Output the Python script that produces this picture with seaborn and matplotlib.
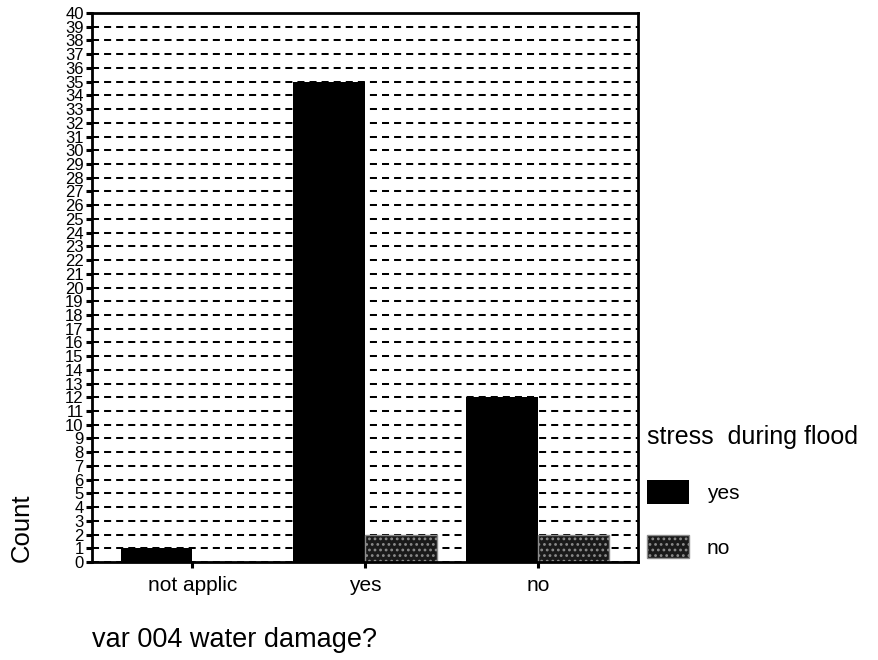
import matplotlib
matplotlib.use('Agg')
import matplotlib.pyplot as plt
import matplotlib.patches as mpatches
import seaborn as sns
import pandas as pd

# counts
damage_levels = ['not applic', 'yes', 'no']
stress_levels = ['yes', 'no']
count_stress_yes = [1, 35, 12]
count_stress_no = [0, 2, 2]

df = pd.DataFrame({
    'damage': damage_levels * 2,
    'stress': ['yes'] * len(damage_levels) + ['no'] * len(damage_levels),
    'count': count_stress_yes + count_stress_no,
})

sns.set_style('white')
plt.rcParams['font.family'] = ['Liberation Sans', 'DejaVu Sans']
plt.rcParams['text.color'] = 'black'
plt.rcParams['axes.labelcolor'] = 'black'
plt.rcParams['hatch.linewidth'] = 1.2

HATCH_FACE = '#1a1a1a'
HATCH_EDGE = '#8c8c8c'

fig = plt.figure(figsize=(8.79, 6.6), dpi=100)
ax = fig.add_axes([92 / 879, 1 - 562 / 660, 546 / 879, 549 / 660])

sns.barplot(data=df, x='damage', y='count', hue='stress',
            order=damage_levels, hue_order=stress_levels,
            palette=['black', 'black'], saturation=1, width=0.83,
            errorbar=None, legend=False, ax=ax)

for bar in ax.containers[0]:
    bar.set_facecolor('black')
    bar.set_edgecolor('black')
    bar.set_linewidth(0)
for bar in ax.containers[1]:
    bar.set_facecolor(HATCH_FACE)
    bar.set_edgecolor(HATCH_EDGE)
    bar.set_hatch('...')
    bar.set_linewidth(1)

ax.set_xlim(-0.58, 2.58)
ax.set_ylim(0, 40)
ax.set_yticks(range(0, 41))
ax.set_yticklabels([str(v) for v in range(0, 41)])

ax.set_axisbelow(True)
ax.yaxis.grid(True, color='black', linewidth=1.45, linestyle=(0, (3.5, 2.5)))
ax.xaxis.grid(False)

for side in ['left', 'bottom', 'top', 'right']:
    ax.spines[side].set_visible(True)
    ax.spines[side].set_color('black')
    ax.spines[side].set_linewidth(2.0)

ax.tick_params(axis='y', length=4, width=2.2, direction='out', pad=2,
               labelsize=12, colors='black', left=True)
ax.tick_params(axis='x', length=4, width=2.2, direction='out', pad=6,
               labelsize=15, colors='black', bottom=True)

ax.set_xlabel('var 004 water damage?', fontsize=19.5, ha='left')
ax.xaxis.set_label_coords(0.0, (562 - 653) / 549)
ax.xaxis.label.set_va('bottom')
ax.set_ylabel('Count', fontsize=18.5, ha='left')
ax.yaxis.set_label_coords((10 - 92) / 546, 0.0)
ax.yaxis.label.set_va('top')

handles = [
    mpatches.Patch(facecolor='black', edgecolor='black', linewidth=0),
    mpatches.Patch(facecolor=HATCH_FACE, edgecolor=HATCH_EDGE, hatch='...', linewidth=1),
]
fig.legend(handles, stress_levels, loc='upper left',
           bbox_to_anchor=(647 / 879, 1 - 425 / 660),
           frameon=False, borderpad=0, borderaxespad=0,
           title='stress  during flood', title_fontsize=18, fontsize=15,
           alignment='left', handlelength=2.0, handleheight=1.35,
           labelspacing=1.5, handletextpad=0.87)

fig.savefig('out.png', dpi=100)
